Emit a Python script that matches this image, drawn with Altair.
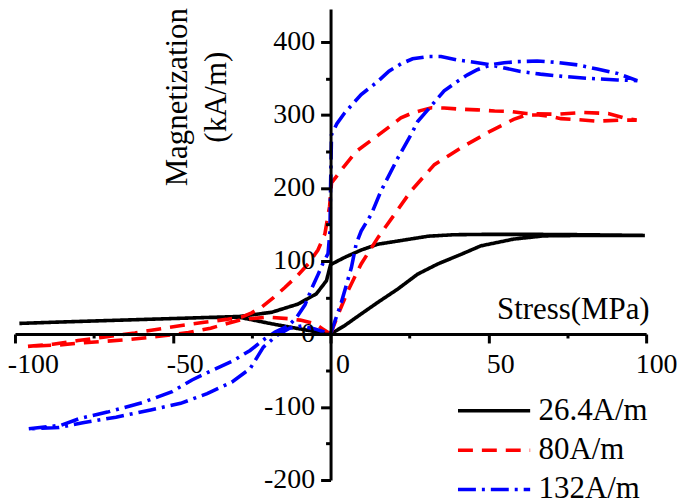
import altair as alt
import pandas as pd

series_names = ["26.4A/m", "80A/m", "132A/m"]
series_colors = ["#000000", "#ff0000", "#0000ff"]
series_dashes = [[1, 0], [15, 9], [18, 6, 3, 6]]

black_x = [0, 4.5, 9.7, 15, 21.3, 27.6, 33.9, 41.3, 47.6, 58, 67.6, 80, 99.6,
           80, 64.4, 50, 39.2, 31, 22.3, 15, 9.7, 4.5, 0,
           -1.3, -4.5, -10.3, -18.7, -29, -40, -55, -70, -85, -98.6,
           -85, -70, -55, -40, -29, -18.7, -8.1, 0]
black_y = [0, 11.6, 27.5, 43.4, 61.6, 82, 95.8, 109, 120.7, 130, 134.4, 135, 135,
           136, 136.5, 136.5, 136, 134, 128, 123, 115, 105, 95,
           73, 55, 41, 29.7, 24, 22.5, 20.5, 18.5, 16.5, 14.5,
           16.5, 18.5, 20.5, 22.5, 23, 14, 5.7, 0]

red_x = [0, 2.5, 5.5, 9.7, 15, 20.3, 25.5, 32.9, 41.3, 50.7, 58, 62, 66, 70, 73, 77, 84.5, 92, 97,
         93, 88, 80, 71.5, 62, 57, 52, 46.5, 41, 36, 32, 28.5, 25.5, 22.3, 15, 8.1, 4, 0.3,
         -0.3, -1.8, -4, -7.1, -10.5, -14.4, -18, -21.8, -25, -28, -33, -40, -45, -52, -62, -72, -80, -88, -96,
         -86, -78, -65, -55, -45, -38, -33, -28, -20, -13.4, -9.6, -5, -2.5, 0]
red_y = [0, 28, 59, 96, 132, 164, 196, 232, 255, 278, 294, 300, 300, 298, 295, 294, 291.5, 293, 293,
         296, 302, 303.5, 301, 302, 305, 305.5, 307, 308, 309.5, 310, 306, 302, 296, 272, 250, 228, 207,
         175, 137, 115, 96, 80, 64, 50, 37, 29, 23.5, 20, 16, 13, 8.5, 1.5, -4.5, -9, -14, -17,
         -15, -12, -8, -3.5, 2, 8, 14, 20, 23, 21, 19, 14, 7, 0]

blue_x = [0, 3.4, 6.6, 8.1, 9.7, 12.9, 16, 21.3, 25.5, 27.6, 30.8, 36, 40.2, 43.4, 46.5, 50.7, 55, 59.1,
          65.5, 71.9, 78.2, 84.5, 90.9, 97.2,
          90.9, 82.3, 73.9, 66.5, 60.2, 50.7, 47.6, 40.2, 35, 30.8, 26, 22.3, 18.5, 15, 9.7, 4.5, 2, 0.3,
          0, -0.2, -0.8, -2.4, -3.9, -6, -8.1, -10.9, -13.4, -17.6, -20.8, -25.5, -31, -37.6, -43.9, -50.2,
          -59.7, -70.7, -79.7, -85.4, -96,
          -86, -78.5, -68, -57, -47.5, -39.1, -31.3, -25.5, -21.3, -17, -13, -9, -5, 0]
blue_y = [0, 43, 91, 123, 141, 164, 196, 241, 273, 291, 307, 333, 346, 355, 362, 368.6, 371.5, 373,
          374, 372, 368.6, 363, 357, 347,
          348, 350, 352.7, 356, 359.5, 368.6, 371, 375.4, 380, 380, 377, 370, 360, 346, 328, 303, 288, 273,
          200, 140, 110, 97, 82, 62, 40, 22, 11, 2.5, -6.6, -22.5, -37, -50, -63, -79,
          -94, -107, -116, -125, -130,
          -128, -121.6, -114, -104, -95, -81.6, -66, -47.5, -18, -2, 8, 11, 7, 0]

x_ticks = [-100, -75, -50, -25, 0, 25, 50, 75, 100]
y_ticks = [-200, -150, -100, -50, 0, 50, 100, 150, 200, 250, 300, 350, 400]

rows = []
for name, xs, ys in zip(series_names, [black_x, red_x, blue_x], [black_y, red_y, blue_y]):
    for i, (a, b) in enumerate(zip(xs, ys)):
        rows.append({"series": name, "idx": i, "stress": a, "mag": b})
df = pd.DataFrame(rows)

W, H = 634, 473
Y_MIN, Y_MAX = -200, 445
FONT = "Liberation Serif"

x_axis = alt.Axis(
    orient="bottom",
    offset=-H * (0 - Y_MIN) / (Y_MAX - Y_MIN),
    zindex=1,
    values=x_ticks,
    labelExpr="datum.value % 50 == 0 ? '' + datum.value : ''",
    labelFlush=False,
    labelOverlap=False,
    labelOffset={"condition": [{"test": "datum.value == -100", "value": 18},
                               {"test": "datum.value == 100", "value": 10}], "value": 12},
    tickSize={"condition": {"test": "datum.value % 50 == 0", "value": 9}, "value": 4},
    labelPadding=8,
    grid=False,
    domainColor="black", domainWidth=3, tickColor="black", tickWidth=3,
    labelFont=FONT, labelFontSize=28, labelColor="black",
    title="Stress(MPa)", titleFont=FONT, titleFontSize=31, titleFontWeight="normal", titleColor="black",
    titleAlign="right", titleBaseline="alphabetic", titleX=637, titleY=-16,
)

y_axis = alt.Axis(
    orient="left",
    offset=-W / 2,
    zindex=1,
    values=y_ticks,
    labelExpr="datum.value % 100 == 0 ? '' + datum.value : ''",
    labelOverlap=False,
    labelFlush=False,
    tickSize={"condition": {"test": "datum.value % 100 == 0", "value": 10}, "value": 5},
    labelPadding=6,
    grid=False,
    domainColor="black", domainWidth=3, tickColor="black", tickWidth=3,
    labelFont=FONT, labelFontSize=28, labelColor="black",
    title=["Magnetization", "(kA/m)"], titleFont=FONT, titleFontSize=31, titleFontWeight="normal",
    titleColor="black", titleAngle=270, titleAlign="center", titleBaseline="middle",
    titleLineHeight=39, titleX=-154, titleY=88,
)

legend = alt.Legend(
    title=None, orient="none", legendX=443, legendY=387,
    symbolType="M-1,0H4", symbolSize=841, symbolStrokeWidth=3.5,
    labelFont=FONT, labelFontSize=31, labelColor="black", labelOffset=50, labelLimit=0,
    rowPadding=7.5,
)

chart = alt.Chart(df).mark_line(strokeWidth=3.6, clip=True).encode(
    x=alt.X("stress:Q", scale=alt.Scale(domain=[-100, 100], nice=False, zero=False), axis=x_axis),
    y=alt.Y("mag:Q", scale=alt.Scale(domain=[Y_MIN, Y_MAX], nice=False, zero=False), axis=y_axis),
    color=alt.Color("series:N", scale=alt.Scale(domain=series_names, range=series_colors), legend=legend),
    strokeDash=alt.StrokeDash("series:N", scale=alt.Scale(domain=series_names, range=series_dashes), legend=legend),
    detail="series:N",
    order=alt.Order("idx:Q"),
).properties(
    width=W, height=H,
    autosize=alt.AutoSizeParams(type="none"),
    padding={"left": 7, "top": 0, "right": 31, "bottom": 30},
).configure_view(stroke=None)

chart.save("out.html", embed_options={"renderer": "svg", "actions": False})
